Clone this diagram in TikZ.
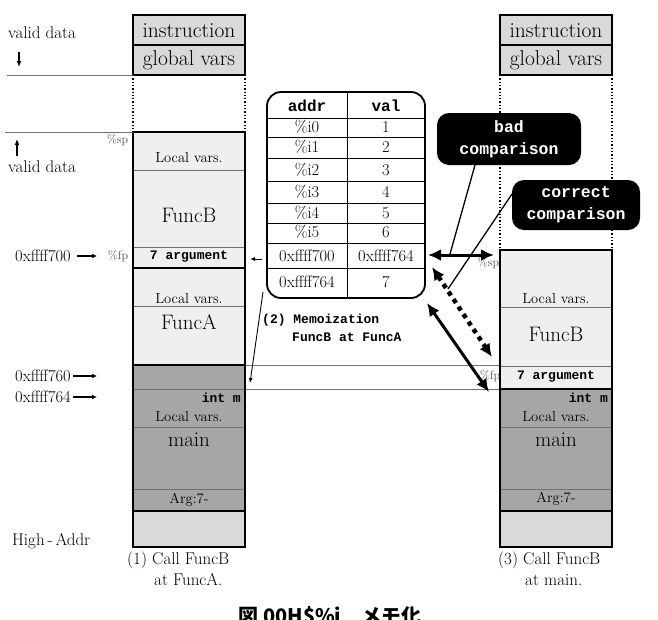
\documentclass[tikz,border=0pt]{standalone}
\usepackage{fontspec}
\setmonofont{Liberation Mono}
\newfontfamily\cjkfont{Noto Sans CJK JP}
\usetikzlibrary{arrows.meta}
\definecolor{lightfill}{HTML}{EFEFEF}
\definecolor{boxfill}{HTML}{D9D9D9}
\definecolor{darkfill}{HTML}{A6A6A6}
\definecolor{linegray}{HTML}{707070}
\newcommand\myfs[1]{\fontsize{#1}{#1}\selectfont}
\begin{document}
\begin{tikzpicture}[x=1pt,y=-1pt,
  frameline/.style={line width=2.6pt},
  thinline/.style={line width=0.8pt, draw=linegray},
  dotline/.style={line width=1.3pt, dotted},
  txt/.style={inner sep=0pt, font=\myfs{#1}},
  txt/.default=16,
  mono/.style={inner sep=0pt, font=\myfs{#1}\ttfamily\bfseries},
  mono/.default=13,
  bubble/.style={fill=black, text=white, rounded corners=12pt, align=center,
    inner sep=0pt, font=\fontsize{16.5}{22}\selectfont\ttfamily\bfseries},
  bigarrow/.style={line width=3pt, {Latex[length=13pt,width=12pt]}-{Latex[length=13pt,width=12pt]}},
  smallarrow/.style={line width=0.9pt, -{Latex[length=5pt,width=4pt]}},
  addrarrow/.style={line width=1.1pt, -{Latex[length=5pt,width=5pt]}},
  tabline/.style={line width=1pt}
]
\useasboundingbox (0,0) rectangle (658,619);

% ---------- left column ----------
\fill[boxfill] (133,15) rectangle (245,75);
\draw[frameline] (133,15) rectangle (245,75);
\draw[frameline] (133,45) -- (245,45);
\node[txt=21.5] (Linst) at (189,31) {instruction};
\node[txt=21.5] (Lglob) at (189,60) {global vars};
\draw[dotline] (133,75) -- (133,132);
\draw[dotline] (245,75) -- (245,132);

\fill[lightfill] (133,132) rectangle (245,365);
\fill[darkfill] (133,365) rectangle (245,511);
\fill[boxfill] (133,511) rectangle (245,547);
\draw[thinline] (133,170) -- (245,170);
\draw[thinline] (133,247) -- (245,247);
\draw[thinline] (133,306) -- (245,306);
\draw[thinline] (133,427) -- (245,427);
\draw[thinline] (133,489) -- (245,489);
% long lines across
\draw[thinline] (133,389) -- (500,389);
\draw[thinline] (245,365) -- (500,365);
\draw[frameline] (133,132) rectangle (245,547);
\draw[frameline] (133,268) -- (245,268);
\draw[frameline] (133,365) -- (245,365);
\draw[frameline] (133,511) -- (245,511);

\node[txt=14.5] (LlocB) at (189,158) {Local vars.};
\node[txt=21] (LfuncB) at (189,215) {FuncB};
\node[mono=13] (Larg) at (189,257) {7 argument};
\node[txt=14.5] (LlocA) at (189,299) {Local vars.};
\node[txt=21] (LfuncA) at (189,322) {FuncA};
\node[mono=13, anchor=east] (Lintm) at (241,398) {int m};
\node[txt=14.5] (Llocm) at (189,417) {Local vars.};
\node[txt=21] (Lmain) at (189,440) {main};
\node[txt=14.5] (LargS) at (189,500) {Arg:7-};

\node[txt=17, anchor=west] (cap1a) at (127,560) {(1) Call FuncB};
\node[txt=17, anchor=west] (cap1b) at (154,580) {at FuncA.};

% ---------- left labels ----------
\draw[line width=0.8pt, draw=linegray] (7,75) -- (133,75);
\draw[line width=0.8pt, draw=linegray] (5,132) -- (133,132);
\node[txt=17, anchor=west] (vd1) at (8,33) {valid data};
\coordinate (dA) at (19,52);
\coordinate (dB) at (19,67);
\draw[line width=1.3pt, -{Latex[length=6pt,width=5pt]}] (dA) -- (dB);
\coordinate (uA) at (17,156);
\coordinate (uB) at (17,139);
\draw[line width=1.3pt, -{Latex[length=6pt,width=5pt]}] (uA) -- (uB);
\node[txt=17, anchor=west] (vd2) at (8,167) {valid data};
\node[txt=12, anchor=west, text=black!70] (Lsp) at (107,140) {\%sp};

\node[txt=16.5, anchor=west] (a700) at (15,256) {0xffff700};
\node[txt=12, anchor=west, text=black!70] (Lfp) at (108,256) {\%fp};
\draw[addrarrow] (a700.east) ++(6,0) -- (97,256);
\node[txt=16.5, anchor=west] (a760) at (15,376) {0xffff760};
\draw[addrarrow] (a760.east) ++(2,0) -- (97,376);
\node[txt=16.5, anchor=west] (a764) at (15,397) {0xffff764};
\draw[addrarrow] (a764.east) ++(2,0) -- (97,397);
\node[txt=17, anchor=west] (high) at (12,541) {High\,-\,Addr};

% ---------- right column ----------
\fill[boxfill] (500,15) rectangle (612,75);
\draw[frameline] (500,15) rectangle (612,75);
\draw[frameline] (500,45) -- (612,45);
\node[txt=21.5] (Rinst) at (556,31) {instruction};
\node[txt=21.5] (Rglob) at (556,60) {global vars};
\draw[dotline] (500,75) -- (500,250);
\draw[dotline] (612,75) -- (612,250);

\fill[lightfill] (500,250) rectangle (612,389);
\fill[darkfill] (500,389) rectangle (612,511);
\fill[boxfill] (500,511) rectangle (612,547);
\draw[thinline] (500,307) -- (612,307);
\draw[thinline] (500,366) -- (612,366);
\draw[thinline] (500,427) -- (612,427);
\draw[thinline] (500,489) -- (612,489);
\draw[frameline] (500,250) rectangle (612,547);
\draw[frameline] (500,389) -- (612,389);
\draw[frameline] (500,511) -- (612,511);

\node[txt=14.5] (RlocB) at (556,299) {Local vars.};
\node[txt=21] (RfuncB) at (556,334) {FuncB};
\node[mono=13] (Rarg) at (556,377) {7 argument};
\node[mono=13, anchor=east] (Rintm) at (608,398) {int m};
\node[txt=14.5] (Rlocm) at (556,417) {Local vars.};
\node[txt=21] (Rmain) at (556,440) {main};
\node[txt=14.5] (RargS) at (556,499) {Arg:7-};
\node[txt=12, anchor=west, text=black!70] (Rsp) at (478,263) {\%sp};
\node[txt=12, anchor=west, text=black!70] (Rfp) at (480,376) {\%fp};

\node[txt=17, anchor=west] (cap3a) at (498,560) {(3) Call FuncB};
\node[txt=17, anchor=west] (cap3b) at (525,580) {at main.};

% ---------- table ----------
\draw[tabline] (267,118) -- (425,118);
\foreach \yy in {137,158,181,203,223,243,268}
  \draw[tabline] (267,\yy) -- (425,\yy);
\draw[line width=0.9pt] (347,92) -- (347,298);
\draw[line width=1.8pt, rounded corners=14pt] (267,92) rectangle (425,298);
\node[mono=16] (haddr) at (307,106) {addr};
\node[mono=16] (hval) at (386,106) {val};
\node[txt=16.5] (r0a) at (307,127) {\%i0};  \node[txt=16.5] (r0v) at (386,127) {1};
\node[txt=16.5] (r1a) at (307,147) {\%i1};  \node[txt=16.5] (r1v) at (386,147) {2};
\node[txt=16.5] (r2a) at (307,170) {\%i2};  \node[txt=16.5] (r2v) at (386,170) {3};
\node[txt=16.5] (r3a) at (307,192) {\%i3};  \node[txt=16.5] (r3v) at (386,192) {4};
\node[txt=16.5] (r4a) at (307,213) {\%i4};  \node[txt=16.5] (r4v) at (386,213) {5};
\node[txt=16.5] (r5a) at (307,232) {\%i5};  \node[txt=16.5] (r5v) at (386,232) {6};
\node[txt=16.5] (r6a) at (307,256) {0xffff700};  \node[txt=16.5] (r6v) at (386,256) {0xffff764};
\node[txt=16.5] (r7a) at (307,282) {0xffff764};  \node[txt=16.5] (r7v) at (386,282) {7};

% ---------- memo arrows ----------
\coordinate (tabL) at (262,259);
\coordinate (argR) at (250,259);
\draw[smallarrow] (tabL) -- (argR);
\coordinate (tabBL) at (263,292);
\coordinate (mainTop) at (250,383);
\draw[smallarrow] (tabBL) -- (mainTop);
\node[mono=13, anchor=west] (memo1) at (262,320) {(2) Memoization};
\node[mono=13, anchor=west] (memo2) at (292,337) {FuncB at FuncA};

% ---------- bubbles ----------
\node[bubble, minimum width=144pt, minimum height=52pt] (bad) at (509,139) {bad\\comparison};
\node[bubble, minimum width=128pt, minimum height=50pt] (correct) at (576,205) {correct\\comparison};

\coordinate (h1) at (428,255);
\coordinate (h2) at (494,255);
\draw[bigarrow] (h1) -- (h2);
\coordinate (d1) at (432,267);
\coordinate (d2) at (492,357);
\draw[line width=4.5pt, dash pattern=on 4.5pt off 4.5pt, {Latex[length=13pt,width=12pt]}-{Latex[length=13pt,width=12pt]}] (d1) -- (d2);
\coordinate (s1) at (427,303);
\coordinate (s2) at (489,392);
\draw[bigarrow] (s1) -- (s2);

\coordinate (badfoot) at (475,165);
\coordinate (badend) at (450,254);
\draw[line width=1.3pt] (badfoot) -- (badend);
\coordinate (corfoot) at (512,194);
\coordinate (corend) at (448,289);
\draw[line width=1.3pt] (corfoot) -- (corend);

% ---------- caption (clipped at the lower edge, as in the reference) ----------
\node[inner sep=0pt, anchor=base, font=\myfs{20}\cjkfont\bfseries] (caption) at (330,623) {図 00H\$\%i　メモ化};
\end{tikzpicture}
\end{document}
